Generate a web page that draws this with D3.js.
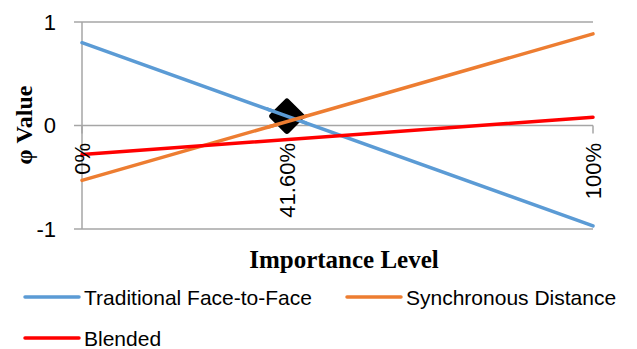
<!DOCTYPE html>
<html><head><meta charset="utf-8">
<script src="https://cdn.jsdelivr.net/npm/d3@7"></script>
<style>body{margin:0;background:#fff}svg{display:block}</style>
</head><body>
<script>
const xDomain = [0, 100];
const seriesNames = ["Traditional Face-to-Face", "Synchronous Distance", "Blended"];
const seriesColors = ["#5B9BD5", "#ED7D31", "#FF0000"];
const xPoints = [0, 100];
const traditional = [0.80, -0.97];
const synchronous = [-0.53, 0.885];
const blended = [-0.28, 0.08];
const markerPoint = [40.1, 0.09];
const xTickValues = [0, 40.1, 100];
const xTickLabels = ["0%", "41.60%", "100%"];
const yTickValues = [-1, 0, 1];
const yTickLabels = ["-1", "0", "1"];

const W = 637, H = 349;
const svg = d3.select("body").append("svg").attr("width", W).attr("height", H);
const x = d3.scaleLinear().domain(xDomain).range([82, 593]);
const y = d3.scaleLinear().domain([-1, 1]).range([229, 22]);
const grid = "#a6a6a6";

svg.append("g").selectAll("line").data(yTickValues).join("line")
  .attr("x1", 74).attr("x2", x(100)).attr("y1", d => y(d)).attr("y2", d => y(d))
  .attr("stroke", grid).attr("stroke-width", 1.5);
svg.append("line").attr("x1", x(0)).attr("x2", x(0)).attr("y1", y(1)).attr("y2", y(-1))
  .attr("stroke", grid).attr("stroke-width", 1.5);
svg.append("g").selectAll("text").data(yTickValues).join("text")
  .attr("x", 56).attr("y", d => y(d)).attr("dy", "0.36em").attr("text-anchor", "end")
  .attr("font-family", "Liberation Sans, Arial, sans-serif").attr("font-size", 22).attr("fill", "#000")
  .text((d, i) => yTickLabels[i]);

svg.append("g").selectAll("line").data(xTickValues).join("line")
  .attr("x1", d => x(d)).attr("x2", d => x(d)).attr("y1", y(0)).attr("y2", y(0) + 8)
  .attr("stroke", grid).attr("stroke-width", 1.5);

const seriesData = [traditional, synchronous, blended];
const line = d3.line().x((d, i) => x(xPoints[i])).y(d => y(d));
seriesData.forEach((s, k) => {
  svg.append("path").datum(s).attr("d", line).attr("fill", "none")
    .attr("stroke", seriesColors[k]).attr("stroke-width", 3.5).attr("stroke-linecap", "round");
});

svg.append("path").attr("d", d3.symbol(d3.symbolSquare, 430)())
  .attr("transform", `translate(${x(markerPoint[0])},${y(markerPoint[1])}) rotate(45)`)
  .attr("fill", "#000").attr("stroke", "#000").attr("stroke-width", 6).attr("stroke-linejoin", "round");
svg.append("clipPath").attr("id", "mclip").append("rect")
  .attr("x", x(markerPoint[0]) - 20).attr("y", y(markerPoint[1]) - 20).attr("width", 40).attr("height", 40);
seriesData.forEach((s, k) => {
  if (k === 0 || k === 1) {
    svg.append("path").datum(s).attr("d", line).attr("fill", "none")
      .attr("stroke", seriesColors[k]).attr("stroke-width", 3.5).attr("stroke-linecap", "round")
      .attr("clip-path", "url(#mclip)");
  }
});

svg.append("g").selectAll("text").data(xTickValues).join("text")
  .attr("transform", d => `translate(${x(d)},143) rotate(-90)`)
  .attr("dy", "0.36em").attr("text-anchor", "end")
  .attr("font-family", "Liberation Sans, Arial, sans-serif").attr("font-size", 22).attr("fill", "#000")
  .text((d, i) => xTickLabels[i]);

svg.append("text").attr("x", 344).attr("y", 268).attr("text-anchor", "middle")
  .attr("font-family", "Liberation Serif, serif").attr("font-weight", "bold").attr("font-size", 25)
  .text("Importance Level");
svg.append("text").attr("transform", "translate(32,125) rotate(-90)").attr("text-anchor", "middle")
  .attr("font-family", "Liberation Serif, serif").attr("font-weight", "bold").attr("font-size", 24)
  .text("φ Value");

const legendPos = [[25, 297], [347, 297], [25, 338]];
seriesNames.forEach((n, k) => {
  const [lx, ly] = legendPos[k];
  svg.append("line").attr("x1", lx).attr("x2", lx + 54).attr("y1", ly).attr("y2", ly)
    .attr("stroke", seriesColors[k]).attr("stroke-width", 3.5).attr("stroke-linecap", "round");
  svg.append("text").attr("x", lx + 59).attr("y", ly).attr("dy", "0.36em")
    .attr("font-family", "Liberation Sans, Arial, sans-serif").attr("font-size", 21).attr("fill", "#000")
    .text(n);
});
</script>
</body></html>
